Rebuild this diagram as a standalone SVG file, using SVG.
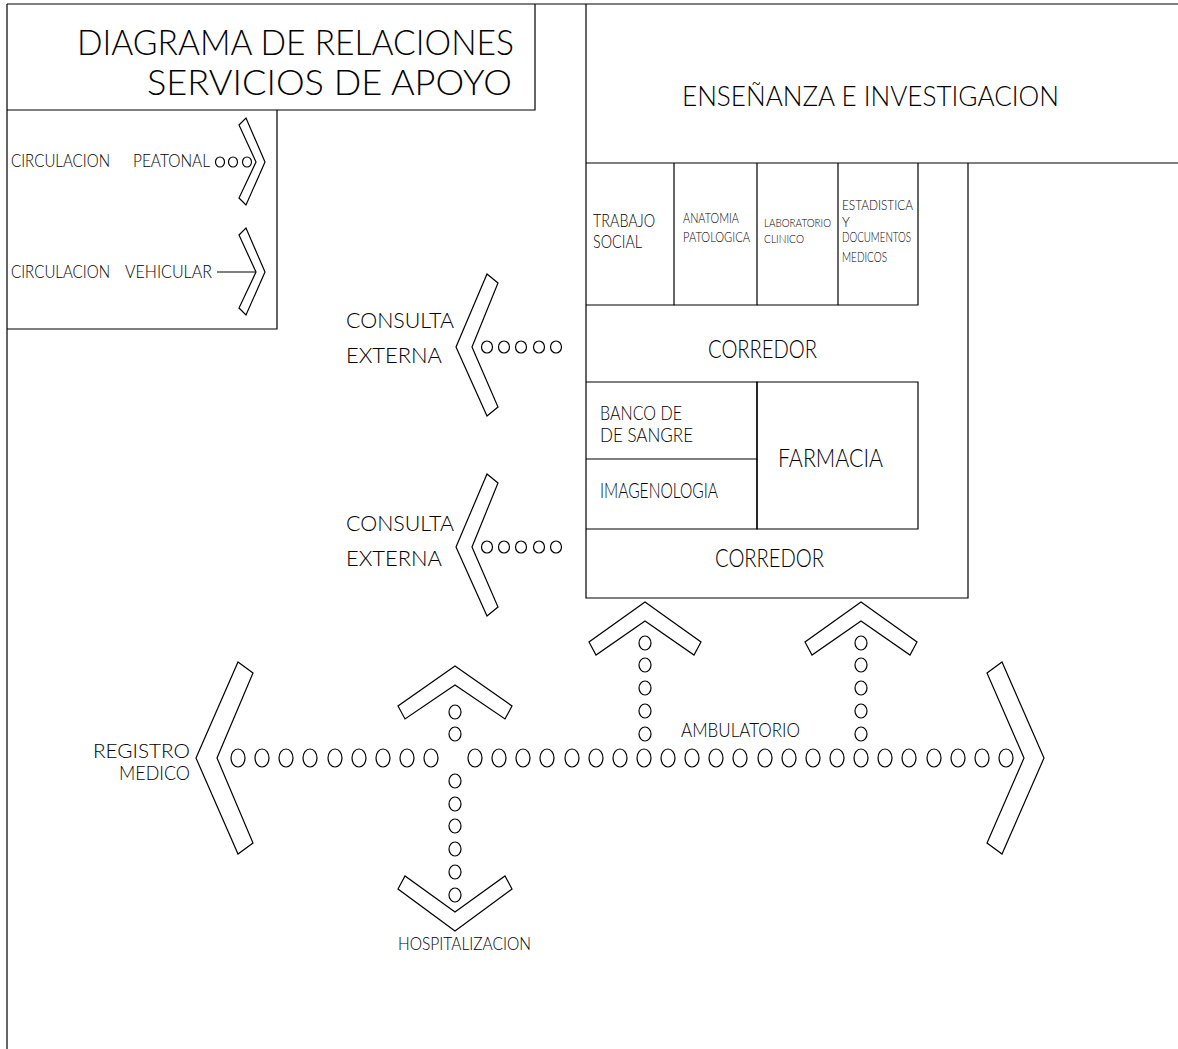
<svg xmlns="http://www.w3.org/2000/svg" width="1178" height="1049" viewBox="0 0 1178 1049">
<style>
.ln{fill:none;stroke:#000;stroke-width:1.2}
.ch{fill:#fff;stroke:#000;stroke-width:1.2;stroke-linejoin:miter}
.dot{fill:none;stroke:#000;stroke-width:1.2}
text{font-family:Lato,"Liberation Sans",sans-serif;font-weight:300;fill:#000}
</style>
<rect x="0" y="0" width="1178" height="1049" fill="#fff"/>
<path class="ln" d="M7,4 H1178 M7,4 V1049"/>
<g id="title">
<path class="ln" d="M7,110 H535 V4"/>
<text x="77" y="55" font-size="36" textLength="437" lengthAdjust="spacingAndGlyphs">DIAGRAMA DE RELACIONES</text>
<text x="147" y="95" font-size="36" textLength="365" lengthAdjust="spacingAndGlyphs">SERVICIOS DE APOYO</text>
</g>
<g id="legend">
<path class="ln" d="M7,329 H277 V110"/>
<text x="11" y="167" font-size="18" textLength="99" lengthAdjust="spacingAndGlyphs">CIRCULACION</text>
<text x="133" y="167" font-size="18" textLength="77" lengthAdjust="spacingAndGlyphs">PEATONAL</text>
<ellipse class="dot" cx="220" cy="162" rx="4.5" ry="5"/>
<ellipse class="dot" cx="233" cy="162" rx="4.5" ry="5"/>
<ellipse class="dot" cx="247" cy="162" rx="4.5" ry="5"/>
<polygon class="ch" points="239,125 246,118 265,162 246,205 239,198 256,162"/>
<text x="11" y="278" font-size="18" textLength="99" lengthAdjust="spacingAndGlyphs">CIRCULACION</text>
<text x="125" y="278" font-size="18" textLength="87" lengthAdjust="spacingAndGlyphs">VEHICULAR</text>
<path class="ln" d="M217,272 H256"/>
<polygon class="ch" points="239,235 246,228 265,272 246,315 239,308 256,272"/>
</g>
<g id="building">
<path class="ln" d="M586,4 V598 H968 V163 M586,163 H1178"/>
</g>
<g id="ensenanza">
<text x="682" y="106" font-size="28" textLength="377" lengthAdjust="spacingAndGlyphs">ENSEÑANZA E INVESTIGACION</text>
</g>
<g id="trabajo-social">
<path class="ln" d="M586,305 H674 V163"/>
<text x="593" y="227" font-size="17" textLength="62" lengthAdjust="spacingAndGlyphs">TRABAJO</text>
<text x="593" y="248" font-size="17" textLength="49" lengthAdjust="spacingAndGlyphs">SOCIAL</text>
</g>
<g id="anatomia-patologica">
<path class="ln" d="M674,305 H757 V163"/>
<text x="683" y="223" font-size="14" textLength="56" lengthAdjust="spacingAndGlyphs">ANATOMIA</text>
<text x="683" y="242" font-size="14" textLength="67" lengthAdjust="spacingAndGlyphs">PATOLOGICA</text>
</g>
<g id="laboratorio-clinico">
<path class="ln" d="M757,305 H838 V163"/>
<text x="764" y="227" font-size="11.5" textLength="67" lengthAdjust="spacingAndGlyphs">LABORATORIO</text>
<text x="764" y="243" font-size="11.5" textLength="40" lengthAdjust="spacingAndGlyphs">CLINICO</text>
</g>
<g id="estadistica">
<path class="ln" d="M838,305 H918 V163"/>
<text x="842" y="210" font-size="14" textLength="71" lengthAdjust="spacingAndGlyphs">ESTADISTICA</text>
<text x="842" y="227" font-size="13">Y</text>
<text x="842" y="242" font-size="14" textLength="69" lengthAdjust="spacingAndGlyphs">DOCUMENTOS</text>
<text x="842" y="262" font-size="13" textLength="45" lengthAdjust="spacingAndGlyphs">MEDICOS</text>
</g>
<g id="corredor-1">
<text x="708" y="358" font-size="25" textLength="109" lengthAdjust="spacingAndGlyphs">CORREDOR</text>
</g>
<g id="banco-de-sangre">
<path class="ln" d="M586,382 H757 V459 H586"/>
<text x="600" y="420" font-size="19" textLength="82" lengthAdjust="spacingAndGlyphs">BANCO DE</text>
<text x="600" y="442" font-size="19" textLength="93" lengthAdjust="spacingAndGlyphs">DE SANGRE</text>
</g>
<g id="imagenologia">
<path class="ln" d="M586,529 H757 V459"/>
<text x="600" y="498" font-size="21" textLength="118" lengthAdjust="spacingAndGlyphs">IMAGENOLOGIA</text>
</g>
<g id="farmacia">
<path class="ln" d="M757,382 H918 V529 H757 Z"/>
<text x="778" y="467" font-size="26" textLength="105" lengthAdjust="spacingAndGlyphs">FARMACIA</text>
</g>
<g id="corredor-2">
<text x="715" y="567" font-size="25" textLength="109" lengthAdjust="spacingAndGlyphs">CORREDOR</text>
</g>
<g id="consulta-externa-1">
<text x="346" y="328" font-size="21" textLength="108" lengthAdjust="spacingAndGlyphs">CONSULTA</text>
<text x="346" y="363" font-size="21" textLength="96" lengthAdjust="spacingAndGlyphs">EXTERNA</text>
</g>
<g id="consulta-externa-2">
<text x="346" y="531" font-size="21" textLength="108" lengthAdjust="spacingAndGlyphs">CONSULTA</text>
<text x="346" y="566" font-size="21" textLength="96" lengthAdjust="spacingAndGlyphs">EXTERNA</text>
</g>
<g id="registro-medico">
<text x="93" y="758" font-size="20" textLength="97" lengthAdjust="spacingAndGlyphs">REGISTRO</text>
<text x="119" y="780" font-size="20" textLength="71" lengthAdjust="spacingAndGlyphs">MEDICO</text>
</g>
<g id="hospitalizacion">
<text x="398" y="950" font-size="18" textLength="133" lengthAdjust="spacingAndGlyphs">HOSPITALIZACION</text>
</g>
<g id="ambulatorio">
<text x="681" y="737" font-size="19.5" textLength="119" lengthAdjust="spacingAndGlyphs">AMBULATORIO</text>
</g>
<g id="connectors">
<g id="to-consulta-1">
<ellipse class="dot" cx="487" cy="347" rx="5.5" ry="6"/>
<ellipse class="dot" cx="504" cy="347" rx="5.5" ry="6"/>
<ellipse class="dot" cx="521" cy="347" rx="5.5" ry="6"/>
<ellipse class="dot" cx="539" cy="347" rx="5.5" ry="6"/>
<ellipse class="dot" cx="556" cy="347" rx="5.5" ry="6"/>
<polygon class="ch" points="487,274 498,283 472,347 498,407 487,416 456,347"/>
</g>
<g id="to-consulta-2">
<ellipse class="dot" cx="487" cy="547" rx="5.5" ry="6"/>
<ellipse class="dot" cx="504" cy="547" rx="5.5" ry="6"/>
<ellipse class="dot" cx="521" cy="547" rx="5.5" ry="6"/>
<ellipse class="dot" cx="539" cy="547" rx="5.5" ry="6"/>
<ellipse class="dot" cx="556" cy="547" rx="5.5" ry="6"/>
<polygon class="ch" points="487,474 498,483 472,547 498,607 487,616 456,547"/>
</g>
<g id="main-horizontal">
<ellipse class="dot" cx="238" cy="758" rx="7" ry="9"/>
<ellipse class="dot" cx="262" cy="758" rx="7" ry="9"/>
<ellipse class="dot" cx="286" cy="758" rx="7" ry="9"/>
<ellipse class="dot" cx="310" cy="758" rx="7" ry="9"/>
<ellipse class="dot" cx="335" cy="758" rx="7" ry="9"/>
<ellipse class="dot" cx="359" cy="758" rx="7" ry="9"/>
<ellipse class="dot" cx="383" cy="758" rx="7" ry="9"/>
<ellipse class="dot" cx="407" cy="758" rx="7" ry="9"/>
<ellipse class="dot" cx="431" cy="758" rx="7" ry="9"/>
<ellipse class="dot" cx="475" cy="758" rx="7" ry="9"/>
<ellipse class="dot" cx="499" cy="758" rx="7" ry="9"/>
<ellipse class="dot" cx="523" cy="758" rx="7" ry="9"/>
<ellipse class="dot" cx="547" cy="758" rx="7" ry="9"/>
<ellipse class="dot" cx="572" cy="758" rx="7" ry="9"/>
<ellipse class="dot" cx="596" cy="758" rx="7" ry="9"/>
<ellipse class="dot" cx="620" cy="758" rx="7" ry="9"/>
<ellipse class="dot" cx="644" cy="758" rx="7" ry="9"/>
<ellipse class="dot" cx="668" cy="758" rx="7" ry="9"/>
<ellipse class="dot" cx="692" cy="758" rx="7" ry="9"/>
<ellipse class="dot" cx="716" cy="758" rx="7" ry="9"/>
<ellipse class="dot" cx="740" cy="758" rx="7" ry="9"/>
<ellipse class="dot" cx="765" cy="758" rx="7" ry="9"/>
<ellipse class="dot" cx="789" cy="758" rx="7" ry="9"/>
<ellipse class="dot" cx="813" cy="758" rx="7" ry="9"/>
<ellipse class="dot" cx="837" cy="758" rx="7" ry="9"/>
<ellipse class="dot" cx="861" cy="758" rx="7" ry="9"/>
<ellipse class="dot" cx="885" cy="758" rx="7" ry="9"/>
<ellipse class="dot" cx="909" cy="758" rx="7" ry="9"/>
<ellipse class="dot" cx="934" cy="758" rx="7" ry="9"/>
<ellipse class="dot" cx="958" cy="758" rx="7" ry="9"/>
<ellipse class="dot" cx="982" cy="758" rx="7" ry="9"/>
<ellipse class="dot" cx="1006" cy="758" rx="7" ry="9"/>
<polygon class="ch" points="238,662 253,673 217,758 253,843 238,854 196,758"/>
<polygon class="ch" points="987,673 1002,662 1044,758 1002,854 987,843 1024,758"/>
</g>
<g id="to-hospitalizacion">
<ellipse class="dot" cx="455" cy="712" rx="6" ry="7"/>
<ellipse class="dot" cx="455" cy="734" rx="6" ry="7"/>
<ellipse class="dot" cx="455" cy="781" rx="6" ry="7"/>
<ellipse class="dot" cx="455" cy="804" rx="6" ry="7"/>
<ellipse class="dot" cx="455" cy="826" rx="6" ry="7"/>
<ellipse class="dot" cx="455" cy="849" rx="6" ry="7"/>
<ellipse class="dot" cx="455" cy="872" rx="6" ry="7"/>
<ellipse class="dot" cx="455" cy="895" rx="6" ry="7"/>
<polygon class="ch" points="455,666 512,706 505,719 455,685 405,719 398,706"/>
<polygon class="ch" points="455,931 398,889 405,876 455,912 505,876 512,889"/>
</g>
<g id="to-building-a">
<ellipse class="dot" cx="645" cy="643" rx="6" ry="7"/>
<ellipse class="dot" cx="645" cy="665" rx="6" ry="7"/>
<ellipse class="dot" cx="645" cy="688" rx="6" ry="7"/>
<ellipse class="dot" cx="645" cy="711" rx="6" ry="7"/>
<ellipse class="dot" cx="645" cy="734" rx="6" ry="7"/>
<polygon class="ch" points="645,602 701,642 694,655 645,621 596,655 589,642"/>
</g>
<g id="to-building-b">
<ellipse class="dot" cx="861" cy="643" rx="6" ry="7"/>
<ellipse class="dot" cx="861" cy="665" rx="6" ry="7"/>
<ellipse class="dot" cx="861" cy="688" rx="6" ry="7"/>
<ellipse class="dot" cx="861" cy="711" rx="6" ry="7"/>
<ellipse class="dot" cx="861" cy="734" rx="6" ry="7"/>
<polygon class="ch" points="861,602 917,642 910,655 861,621 812,655 805,642"/>
</g>
</g>
</svg>
